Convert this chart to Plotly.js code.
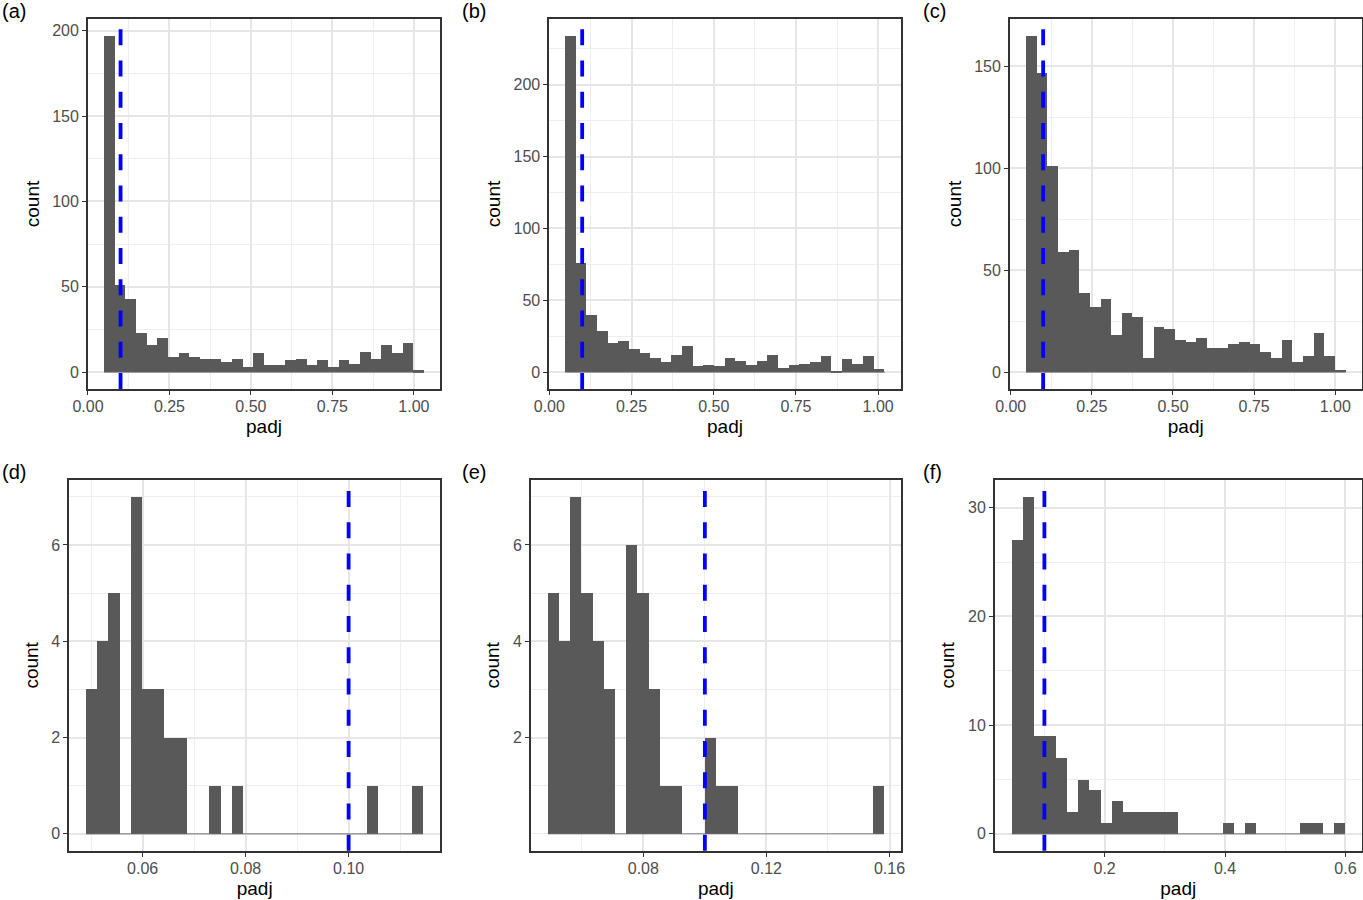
<!DOCTYPE html>
<html><head><meta charset="utf-8">
<script src="https://cdn.plot.ly/plotly-3.0.1.min.js"></script>
<style>html,body{margin:0;padding:0;background:#fff}#chart{width:1363px;height:900px}</style>
</head><body><div id="chart"></div>
<script>
// ---- data ----
const panelTags = ["(a)", "(b)", "(c)", "(d)", "(e)", "(f)"];
const xLabel = "padj";
const yLabel = "count";
const thresholdPadj = 0.1;

// histogram bins: first bin start (padj), bin width (padj), counts (30 bins)
const binStartA = 0.0492, binWidthA = 0.03273;
const countsA = [197,51,43,23,16,20,9,11,9,8,8,6,8,3,11,4,4,7,8,4,7,3,7,5,12,8,16,11,17,1];
const binStartB = 0.0486, binWidthB = 0.03238;
const countsB = [234,76,40,29,20,22,16,13,10,7,12,18,4,5,4,10,8,5,8,12,3,5,6,7,11,1,9,6,11,2];
const binStartC = 0.0471, binWidthC = 0.03282;
const countsC = [165,147,101,59,60,39,32,36,18,29,27,7,22,21,16,15,17,12,12,14,15,14,10,7,16,5,8,19,8,1];
const binStartD = 0.04904, binWidthD = 0.002181;
const countsD = [3,4,5,0,7,3,3,2,2,0,0,1,0,1,0,0,0,0,0,0,0,0,0,0,0,1,0,0,0,1];
const binStartE = 0.04897, binWidthE = 0.00364;
const countsE = [5,4,7,5,4,3,0,6,5,3,1,1,0,0,2,1,1,0,0,0,0,0,0,0,0,0,0,0,0,1];
const binStartF = 0.04564, binWidthF = 0.018443;
const countsF = [27,31,9,9,7,2,5,4,1,3,2,2,2,2,2,0,0,0,0,1,0,1,0,0,0,0,1,1,0,1];

// tick labels
const xTicksABC = [0, 0.25, 0.5, 0.75, 1.0];
const xTickTextABC = ["0.00", "0.25", "0.50", "0.75", "1.00"];
const xMinorABC = [0.125, 0.375, 0.625, 0.875];
const xTicksD = [0.06, 0.08, 0.10];
const xTickTextD = ["0.06", "0.08", "0.10"];
const xMinorD = [0.05, 0.07, 0.09, 0.11];
const xTicksE = [0.08, 0.12, 0.16];
const xTickTextE = ["0.08", "0.12", "0.16"];
const xMinorE = [0.06, 0.10, 0.14];
const xTicksF = [0.2, 0.4, 0.6];
const xTickTextF = ["0.2", "0.4", "0.6"];
const xMinorF = [0.1, 0.3, 0.5];

const yTicksAB = [0, 50, 100, 150, 200];
const yMinorA = [25, 75, 125, 175];
const yMinorB = [25, 75, 125, 175, 225];
const yTicksC = [0, 50, 100, 150];
const yMinorC = [25, 75, 125];
const yTicksD = [0, 2, 4, 6];
const yMinorD = [1, 3, 5, 7];
const yTicksE = [2, 4, 6];
const yMinorE = [0, 1, 3, 5, 7];
const yTicksF = [0, 10, 20, 30];
const yMinorF = [5, 15, 25];

// ---- layout geometry (pixels in a 1363x900 canvas) ----
const W = 1363, H = 900;
const panels = [
  {start: binStartA, bw: binWidthA, counts: countsA, xt: xTicksABC, xtt: xTickTextABC, xm: xMinorABC, yt: yTicksAB, ym: yMinorA, box: [88, 440, 19, 389]},
  {start: binStartB, bw: binWidthB, counts: countsB, xt: xTicksABC, xtt: xTickTextABC, xm: xMinorABC, yt: yTicksAB, ym: yMinorB, box: [549.3, 900.7, 19, 389]},
  {start: binStartC, bw: binWidthC, counts: countsC, xt: xTicksABC, xtt: xTickTextABC, xm: xMinorABC, yt: yTicksC, ym: yMinorC, box: [1010, 1361.5, 19, 389]},
  {start: binStartD, bw: binWidthD, counts: countsD, xt: xTicksD, xtt: xTickTextD, xm: xMinorD, yt: yTicksD, ym: yMinorD, box: [69.3, 440, 480, 850.7]},
  {start: binStartE, bw: binWidthE, counts: countsE, xt: xTicksE, xtt: xTickTextE, xm: xMinorE, yt: yTicksE, ym: yMinorE, box: [531, 900.7, 480, 850.7]},
  {start: binStartF, bw: binWidthF, counts: countsF, xt: xTicksF, xtt: xTickTextF, xm: xMinorF, yt: yTicksF, ym: yMinorF, box: [995, 1361.5, 480, 850.7]}
];
const tagPos = [[0, 11], [460, 11], [921, 11], [0, 472], [460, 472], [921, 472]];

const FONT = "Liberation Sans, Arial, Helvetica, sans-serif";
const traces = [];
const layout = {
  width: W, height: H,
  margin: {l: 0, r: 0, t: 0, b: 0},
  paper_bgcolor: "#ffffff", plot_bgcolor: "#ffffff",
  showlegend: false, bargap: 0,
  font: {family: FONT, color: "#000000"},
  shapes: [], annotations: []
};

panels.forEach((p, i) => {
  const n = p.counts.length;
  const sfx = i === 0 ? "" : String(i + 1);
  const xa = "x" + sfx, ya = "y" + sfx;
  const centers = p.counts.map((_, k) => p.start + (k + 0.5) * p.bw);
  const end = p.start + n * p.bw;
  const span = end - p.start;
  const maxC = Math.max(...p.counts);

  // baseline of empty bins (as ggplot draws zero-height bars)
  traces.push({type: "scatter", mode: "lines", x: [p.start, end], y: [0, 0],
    xaxis: xa, yaxis: ya, line: {color: "#6a6a6a", width: 0.9}, hoverinfo: "skip"});
  traces.push({type: "bar", x: centers, y: p.counts, width: p.bw,
    xaxis: xa, yaxis: ya, marker: {color: "#595959", line: {width: 0}}, hoverinfo: "x+y"});

  const [x0, x1, y0, y1] = p.box;
  const common = {
    showline: true, mirror: true, linecolor: "#333333", linewidth: 1.8,
    ticks: "outside", ticklen: 4, tickwidth: 1.2, tickcolor: "#333333",
    tickfont: {family: FONT, size: 16, color: "#4d4d4d"},
    showgrid: true, gridcolor: "#e6e6e6", gridwidth: 1.5,
    zeroline: false, tickmode: "array", fixedrange: true
  };
  layout["xaxis" + sfx] = Object.assign({}, common, {
    domain: [x0 / W, x1 / W], anchor: ya,
    range: [p.start - 0.05 * span, end + 0.05 * span],
    tickvals: p.xt, ticktext: p.xtt, ticklabelstandoff: -2,
    minor: {tickmode: "array", tickvals: p.xm, showgrid: true, gridcolor: "#eeeeee", gridwidth: 1, ticks: ""},
    title: {text: xLabel, font: {family: FONT, size: 19, color: "#000000"}, standoff: 6}
  });
  layout["yaxis" + sfx] = Object.assign({}, common, {
    domain: [1 - y1 / H, 1 - y0 / H], anchor: xa,
    range: [-0.05 * maxC, 1.05 * maxC],
    tickvals: p.yt, ticktext: p.yt.map(String),
    minor: {tickmode: "array", tickvals: p.ym, showgrid: true, gridcolor: "#eeeeee", gridwidth: 1, ticks: ""},
    title: {text: yLabel, font: {family: FONT, size: 19, color: "#000000"}, standoff: 8}
  });

  // threshold line
  layout.shapes.push({type: "line", xref: xa, yref: ya + " domain",
    x0: thresholdPadj, x1: thresholdPadj, y0: 0, y1: 1,
    line: {color: "#0000ff", width: 3.8, dash: "16px,15.25px"}});

  layout.annotations.push({text: panelTags[i], xref: "paper", yref: "paper",
    x: tagPos[i][0] / W, y: 1 - tagPos[i][1] / H, xanchor: "left", yanchor: "middle",
    showarrow: false, font: {family: FONT, size: 20, color: "#000000"}});
});

Plotly.newPlot("chart", traces, layout, {displayModeBar: false});
</script>
</body></html>
